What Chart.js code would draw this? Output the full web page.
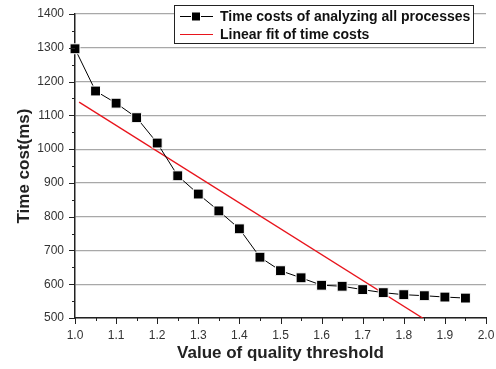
<!DOCTYPE html>
<html>
<head>
<meta charset="utf-8">
<script src="https://cdn.jsdelivr.net/npm/chart.js@4.4.1/dist/chart.umd.min.js"></script>
<style>
  html, body { margin: 0; padding: 0; background: #fff; }
  #wrap { width: 496px; height: 369px; position: relative; }
</style>
</head>
<body>
<div id="wrap"><canvas id="chart"></canvas></div>
<script>
// ---- data ----
const qualityThreshold = [1.00, 1.05, 1.10, 1.15, 1.20, 1.25, 1.30, 1.35, 1.40, 1.45,
                          1.50, 1.55, 1.60, 1.65, 1.70, 1.75, 1.80, 1.85, 1.90, 1.95];
const timeCosts = [1297, 1172, 1136, 1093, 1018, 921, 867, 817, 764, 680,
                   640, 619, 597, 594, 584, 575, 569, 566, 562, 559];
const fitThreshold = [1.01, 1.95];
const fitCosts = [1139, 420];
const seriesLabels = ["Time costs of analyzing all processes", "Linear fit of time costs"];
const xTitle = "Value of quality threshold";
const yTitle = "Time cost(ms)";

const FONT = "'Liberation Sans', Arial, sans-serif";

// outward major / minor tick marks, Origin style
const axisTicks = {
  id: "axisTicks",
  afterDraw(chart) {
    const { ctx, scales: { x, y } } = chart;
    ctx.save();
    ctx.strokeStyle = "#222";
    ctx.lineWidth = 1;
    ctx.beginPath();
    for (let v = 500; v <= 1400; v += 50) {
      const py = Math.round(y.getPixelForValue(v)) + 0.5;
      const len = v % 100 === 0 ? 6 : 3;
      ctx.moveTo(x.left - len, py);
      ctx.lineTo(x.left, py);
    }
    for (let i = 0; i <= 20; i++) {
      const v = 1 + i * 0.05;
      const px = Math.round(x.getPixelForValue(v)) + 0.5;
      const len = i % 2 === 0 ? 6 : 3;
      ctx.moveTo(px, y.bottom);
      ctx.lineTo(px, y.bottom + len);
    }
    ctx.stroke();
    ctx.restore();
  }
};

// boxed legend inside the plot, top right
const boxLegend = {
  id: "boxLegend",
  afterDraw(chart) {
    const { ctx } = chart;
    const bx = 174, by = 5, bw = 299, bh = 38;
    ctx.save();
    ctx.fillStyle = "#fff";
    ctx.fillRect(bx, by, bw, bh);
    ctx.strokeStyle = "#222";
    ctx.lineWidth = 1;
    ctx.strokeRect(bx + 0.5, by + 0.5, bw, bh);
    ctx.font = "bold 14px " + FONT;
    ctx.textBaseline = "middle";
    const rows = [by + 11, by + 29];
    chart.data.datasets.forEach((ds, i) => {
      const ry = rows[i] + 0.5;
      ctx.strokeStyle = ds.borderColor;
      ctx.lineWidth = 1;
      ctx.beginPath();
      ctx.moveTo(bx + 6, ry);
      ctx.lineTo(bx + 39, ry);
      ctx.stroke();
      if (i === 0) {
        ctx.fillStyle = "#fff";
        ctx.fillRect(bx + 17, ry - 5, 10, 10);
        ctx.fillStyle = "#000";
        ctx.fillRect(bx + 18, ry - 4, 8, 8);
      }
      ctx.fillStyle = "#111";
      ctx.fillText(ds.label, bx + 46, ry + 1);
    });
    ctx.restore();
  }
};

new Chart(document.getElementById("chart"), {
  type: "line",
  data: {
    datasets: [
      {
        label: seriesLabels[0],
        data: qualityThreshold.map((q, i) => ({ x: q, y: timeCosts[i] })),
        borderColor: "#000",
        borderWidth: 1,
        pointStyle: "rect",
        pointRadius: 7,
        pointBackgroundColor: "#000",
        pointBorderColor: "#fff",
        pointBorderWidth: 1,
        tension: 0,
        clip: false
      },
      {
        label: seriesLabels[1],
        data: fitThreshold.map((q, i) => ({ x: q, y: fitCosts[i] })),
        borderColor: "#e8141c",
        borderWidth: 1.3,
        pointRadius: 0,
        tension: 0
      }
    ]
  },
  plugins: [axisTicks, boxLegend],
  options: {
    responsive: true,
    maintainAspectRatio: false,
    animation: false,
    events: [],
    layout: { padding: { top: 14, right: 10, left: 0, bottom: 0 } },
    plugins: { legend: { display: false }, tooltip: { enabled: false } },
    scales: {
      x: {
        type: "linear",
        min: 1.0,
        max: 2.0,
        afterFit: (s) => { s.height = 51; s.paddingLeft = 0; s.paddingRight = 0; },
        ticks: {
          stepSize: 0.1,
          padding: 10,
          color: "#333",
          font: { family: FONT, size: 12 },
          callback: (v) => Number(v).toFixed(1)
        },
        grid: { display: false, drawTicks: false },
        border: { display: true, color: "#222", width: 1.5 },
        title: {
          display: true,
          text: xTitle,
          color: "#222",
          font: { family: FONT, size: 17, weight: "bold" },
          padding: { top: 0, bottom: 5 }
        }
      },
      y: {
        min: 500,
        max: 1400,
        afterFit: (s) => { s.width = 75; s.paddingTop = 0; s.paddingBottom = 0; },
        ticks: {
          stepSize: 100,
          padding: 11,
          color: "#333",
          font: { family: FONT, size: 12 },
          callback: (v) => String(v)
        },
        grid: { color: "#a8a8a8", lineWidth: 1.2, drawTicks: false },
        border: { display: true, color: "#222", width: 1.5 },
        title: {
          display: true,
          text: yTitle,
          color: "#222",
          font: { family: FONT, size: 17, weight: "bold" },
          padding: { top: 14, bottom: 0 }
        }
      }
    }
  }
});
</script>
</body>
</html>
